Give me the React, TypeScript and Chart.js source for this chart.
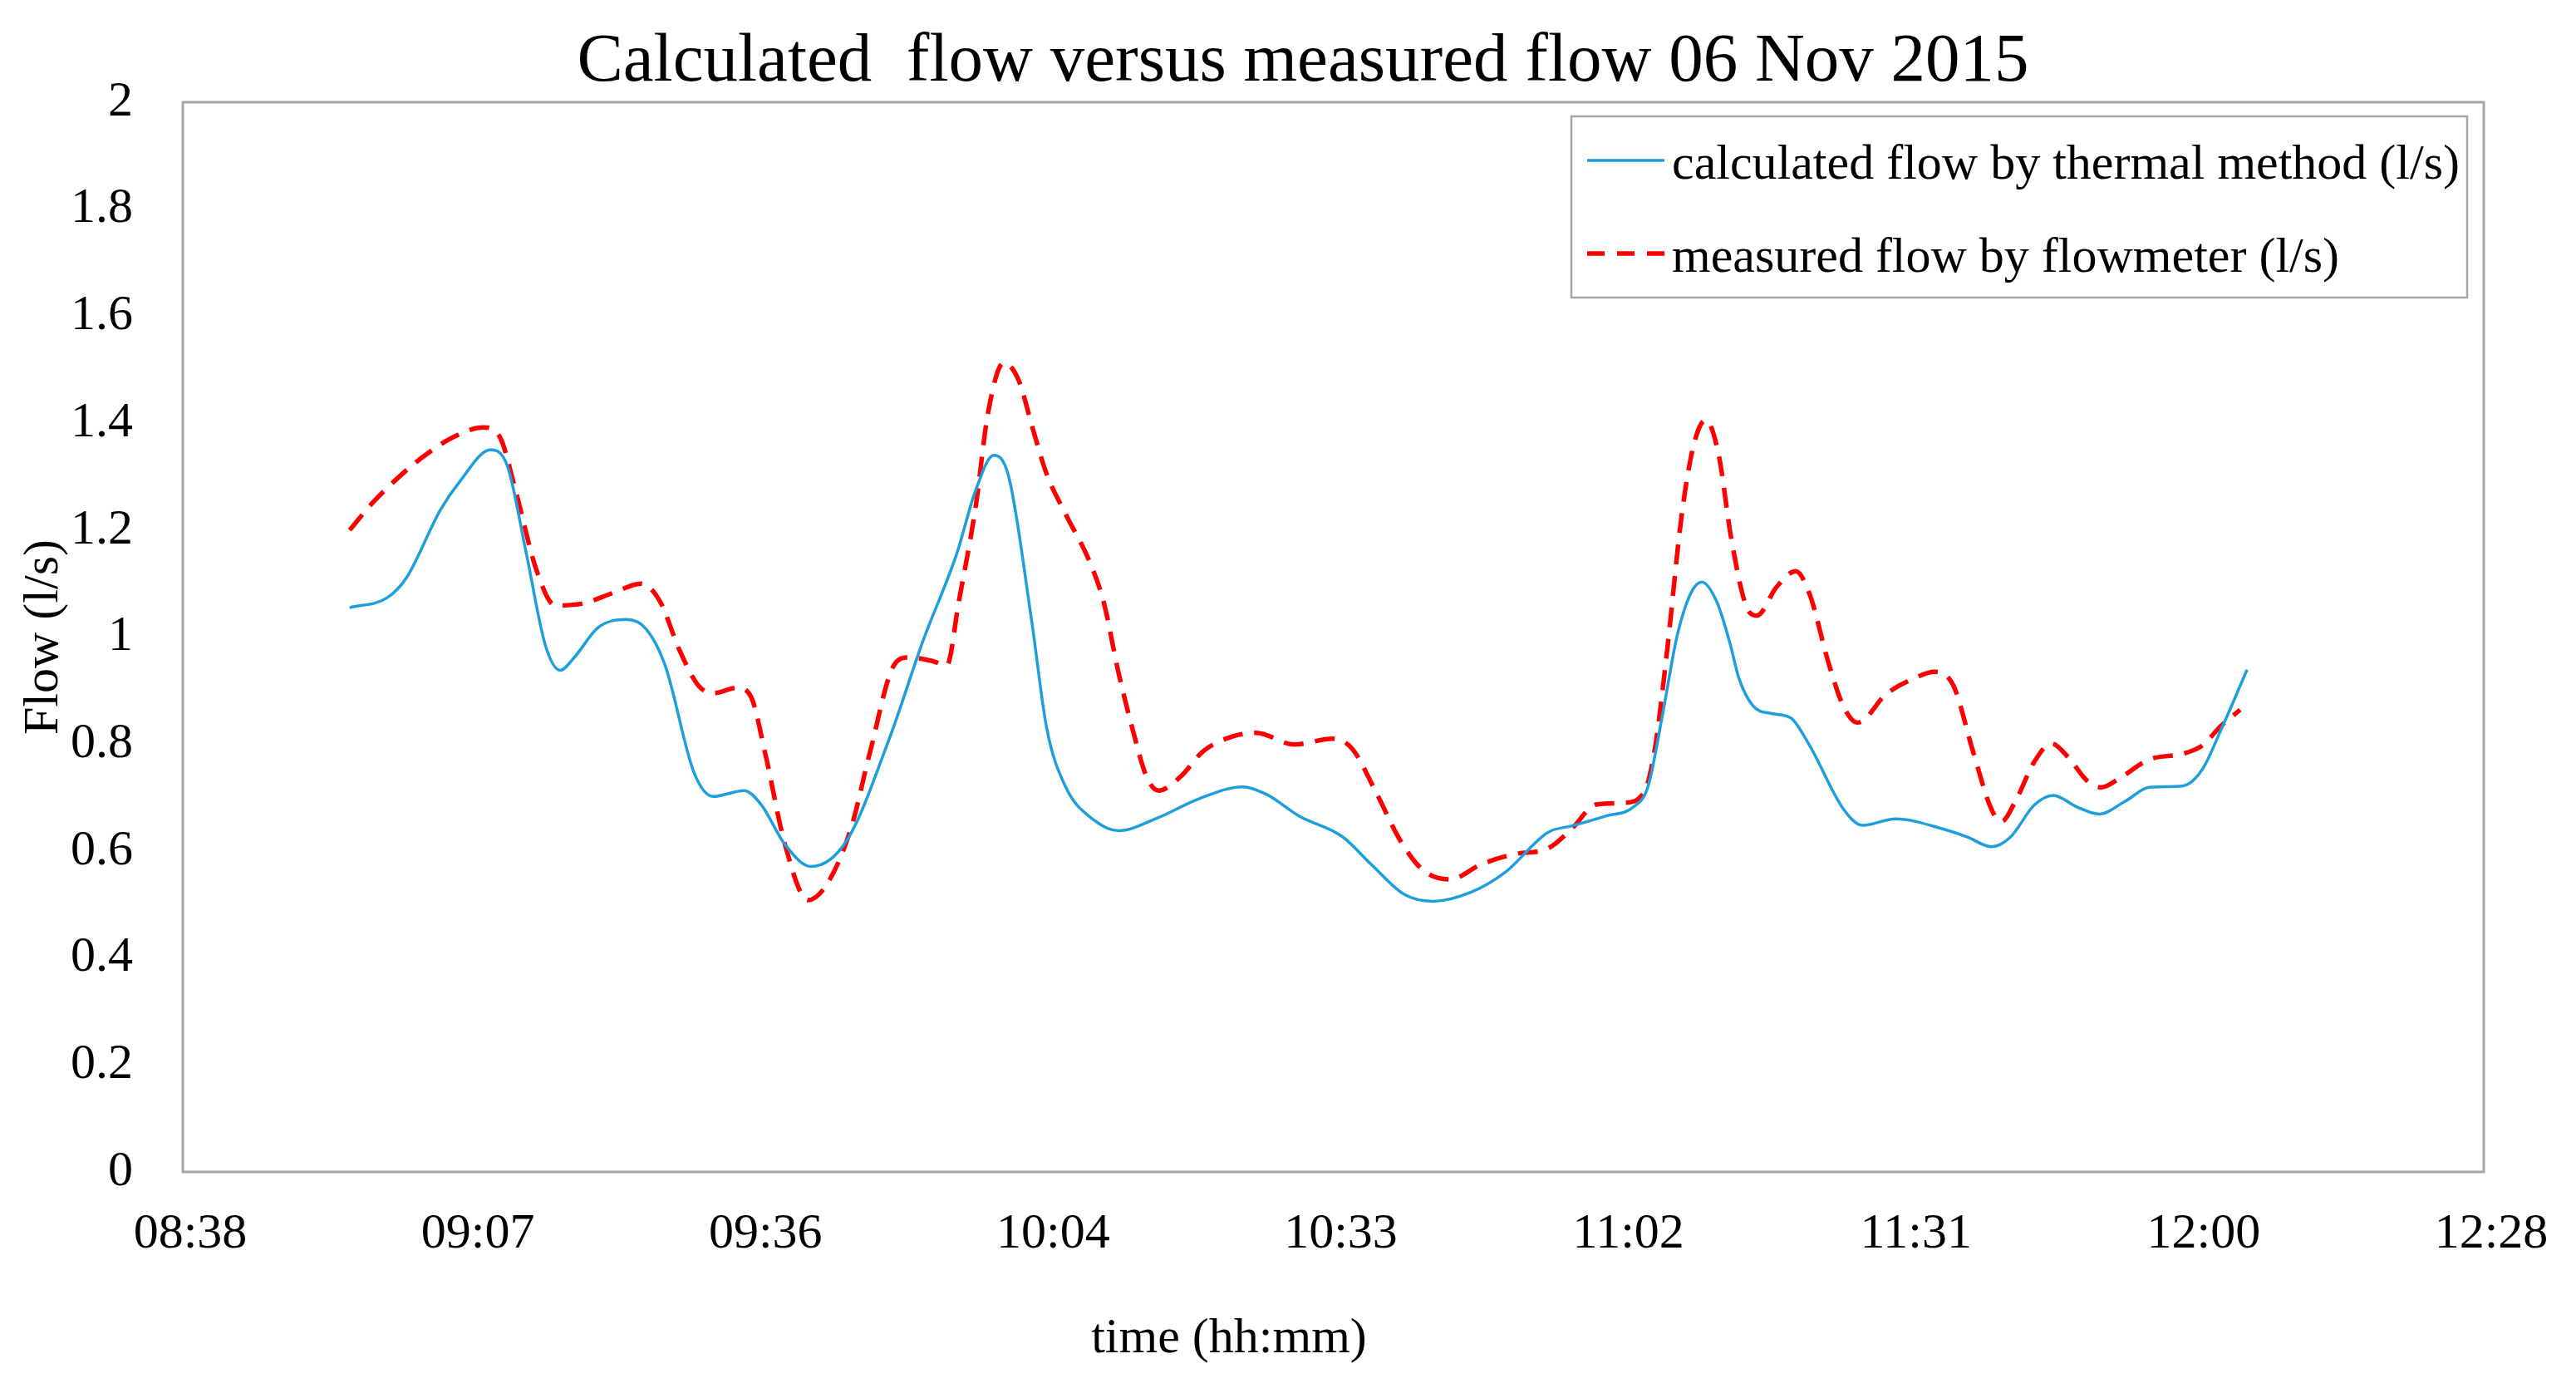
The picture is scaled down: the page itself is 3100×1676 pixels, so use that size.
import React, { useEffect, useRef } from "react";
import { Chart, registerables } from "chart.js";

Chart.register(...registerables);

// time in minutes after midnight
const calcTime = [
  535.1, 538.9, 540.8, 544.2, 546.1, 549.2, 550.9, 552.8, 554.7, 556.2, 557.6, 560.0, 562.8, 564.8,
  566.7, 569.6, 571.5, 574.6, 576.3, 578.7, 581.3, 584.9, 589.2, 592.5, 595.9, 597.8, 599.6, 601.1,
  603.4, 604.9, 606.8, 609.7, 612.1, 615.9, 620.2, 624.5, 626.9, 630.2, 634.5, 637.4, 640.7, 643.6,
  647.4, 650.8, 655.1, 657.5, 660.8, 663.7, 665.1, 666.6, 668.0, 669.4, 670.5, 672.0, 673.3, 674.2,
  675.6, 677.5, 679.4, 681.3, 684.7, 686.6, 689.9, 694.7, 697.1, 699.5, 701.4, 703.8, 705.7, 708.1,
  710.3, 712.9, 715.3, 718.7, 720.6, 722.5, 725.1,
];
const calcFlow = [
  1.055, 1.074, 1.111, 1.238, 1.29, 1.35, 1.32, 1.156, 0.985, 0.938, 0.962, 1.018, 1.033, 1.015,
  0.947, 0.746, 0.702, 0.713, 0.687, 0.612, 0.571, 0.62, 0.813, 0.992, 1.156, 1.275, 1.34, 1.3,
  1.03, 0.83, 0.72, 0.657, 0.638, 0.661, 0.698, 0.72, 0.706, 0.665, 0.627, 0.575, 0.519, 0.506,
  0.523, 0.56, 0.635, 0.647, 0.665, 0.683, 0.72, 0.858, 1.0, 1.082, 1.103, 1.066, 0.99, 0.924,
  0.872, 0.857, 0.849, 0.797, 0.678, 0.648, 0.66, 0.641, 0.626, 0.608, 0.626, 0.686, 0.704, 0.682,
  0.669, 0.693, 0.719, 0.722, 0.752, 0.827, 0.939,
];

const measTime = [
  535.1, 537.5, 539.9, 542.8, 545.6, 548.5, 550.2, 551.8, 553.8, 555.7, 558.5, 561.4, 564.3, 566.2,
  568.1, 570.0, 571.5, 573.9, 575.3, 576.7, 578.7, 581.0, 582.9, 585.3, 587.2, 589.6, 591.1, 593.5,
  594.9, 596.1, 597.8, 599.0, 600.6, 602.1, 603.5, 604.9, 606.8, 609.2, 610.6, 612.1, 613.5, 614.9,
  616.1, 618.3, 620.6, 623.5, 625.9, 629.7, 633.5, 635.5, 637.9, 640.3, 642.6, 645.3, 648.4, 651.7,
  655.1, 657.5, 659.9, 662.7, 664.7, 665.8, 667.0, 668.5, 669.7, 670.9, 672.2, 673.4, 674.9, 676.0,
  678.0, 679.9, 681.3, 683.2, 684.7, 686.1, 689.0, 691.9, 693.8, 695.7, 697.6, 699.5, 700.5, 701.9,
  703.8, 705.5, 707.2, 709.1, 710.5, 712.4, 715.3, 718.7, 720.6, 722.5, 724.4,
];
const measFlow = [
  1.2, 1.253, 1.297, 1.342, 1.375, 1.392, 1.372, 1.268, 1.126, 1.059, 1.063, 1.082, 1.1, 1.066,
  0.977, 0.91, 0.895, 0.905, 0.888, 0.784, 0.612, 0.508, 0.538, 0.642, 0.784, 0.947, 0.962, 0.955,
  0.947, 1.066, 1.245, 1.416, 1.513, 1.48, 1.39, 1.305, 1.23, 1.141, 1.066, 0.933, 0.828, 0.739,
  0.713, 0.739, 0.787, 0.814, 0.821, 0.799, 0.81, 0.791, 0.709, 0.62, 0.564, 0.547, 0.575, 0.594,
  0.605, 0.642, 0.687, 0.69, 0.709, 0.791, 0.97, 1.23, 1.36, 1.406, 1.34, 1.19, 1.06, 1.04,
  1.094, 1.123, 1.08, 0.951, 0.87, 0.84, 0.894, 0.924, 0.935, 0.909, 0.79, 0.678, 0.655, 0.693,
  0.767, 0.801, 0.775, 0.731, 0.719, 0.737, 0.771, 0.782, 0.797, 0.834, 0.864,
];

const xTicks = [518.4, 547.2, 576, 604.8, 633.6, 662.4, 691.2, 720, 748.8];
const yTicks = [0, 0.2, 0.4, 0.6, 0.8, 1, 1.2, 1.4, 1.6, 1.8, 2];

const titleText = "Calculated  flow versus measured flow 06 Nov 2015";
const xTitle = "time (hh:mm)";
const yTitle = "Flow (l/s)";
const calcLabel = "calculated flow by thermal method (l/s)";
const measLabel = "measured flow by flowmeter (l/s)";

const FONT = "'Liberation Serif', 'Times New Roman', serif";
const BLUE = "#1E9FDC";
const RED = "#FF0000";
const FRAME = "#A6A6A6";

function fmtTime(v: number): string {
  const total = Math.floor(v + 1e-6);
  const h = Math.floor(total / 60);
  const m = total % 60;
  return String(h).padStart(2, "0") + ":" + String(m).padStart(2, "0");
}

const decor = {
  id: "decor",
  beforeDatasetsDraw(chart: any) {
    const { ctx, chartArea } = chart;
    ctx.save();
    ctx.strokeStyle = FRAME;
    ctx.lineWidth = 3;
    ctx.strokeRect(chartArea.left, chartArea.top, chartArea.right - chartArea.left, chartArea.bottom - chartArea.top);
    ctx.restore();
  },
  afterDraw(chart: any) {
    const { ctx } = chart;
    ctx.save();
    ctx.fillStyle = "#000";
    // title
    ctx.font = `83px ${FONT}`;
    ctx.textAlign = "center";
    ctx.textBaseline = "alphabetic";
    ctx.fillText(titleText, 1568, 97);
    // x title
    ctx.font = `60px ${FONT}`;
    ctx.textBaseline = "middle";
    ctx.fillText(xTitle, 1479, 1611);
    // legend
    const bx = 1891, by = 140, bw = 1078, bh = 218;
    ctx.fillStyle = "#fff";
    ctx.fillRect(bx, by, bw, bh);
    ctx.strokeStyle = FRAME;
    ctx.lineWidth = 2.5;
    ctx.strokeRect(bx, by, bw, bh);
    const ds = chart.data.datasets;
    const rows = [193, 305];
    ds.forEach((d: any, i: number) => {
      const y = rows[i];
      ctx.beginPath();
      ctx.strokeStyle = d.borderColor;
      ctx.lineWidth = d.borderWidth;
      ctx.setLineDash(i === 1 ? [21, 15] : []);
      ctx.moveTo(1910, y);
      ctx.lineTo(2003, y);
      ctx.stroke();
      ctx.setLineDash([]);
      ctx.fillStyle = "#000";
      ctx.font = `60px ${FONT}`;
      ctx.textAlign = "left";
      ctx.textBaseline = "alphabetic";
      ctx.fillText(d.label, 2012, y + 22);
    });
    ctx.restore();
  },
};

export default function App() {
  const ref = useRef<HTMLCanvasElement>(null);
  useEffect(() => {
    if (!ref.current) return;
    const chart = new Chart(ref.current, {
      type: "line",
      data: {
        datasets: [
          {
            label: calcLabel,
            data: calcTime.map((t, i) => ({ x: t, y: calcFlow[i] })),
            borderColor: BLUE,
            borderWidth: 3.5,
            pointRadius: 0,
            cubicInterpolationMode: "monotone",
            fill: false,
          },
          {
            label: measLabel,
            data: measTime.map((t, i) => ({ x: t, y: measFlow[i] })),
            borderColor: RED,
            borderWidth: 5.5,
            borderDash: [24, 14],
            pointRadius: 0,
            cubicInterpolationMode: "monotone",
            fill: false,
          },
        ],
      },
      options: {
        animation: false,
        responsive: false,
        devicePixelRatio: 1,
        layout: { padding: { top: 123, right: 111, bottom: 0, left: 0 } },
        plugins: { legend: { display: false }, title: { display: false }, tooltip: { enabled: false } },
        scales: {
          x: {
            type: "linear",
            min: xTicks[0],
            max: xTicks[xTicks.length - 1],
            grid: { display: false },
            border: { display: false },
            afterBuildTicks: (axis: any) => {
              axis.ticks = xTicks.map((v) => ({ value: v }));
            },
            afterFit: (scale: any) => {
              scale.height = 1676 - 1410;
            },
            ticks: {
              autoSkip: false,
              maxRotation: 0,
              padding: 31,
              labelOffset: 9,
              color: "#000",
              font: { family: FONT, size: 60 },
              callback: (v: any) => fmtTime(Number(v)),
            },
          },
          y: {
            type: "linear",
            min: 0,
            max: 2,
            grid: { display: false },
            border: { display: false },
            afterBuildTicks: (axis: any) => {
              axis.ticks = yTicks.map((v) => ({ value: v }));
            },
            afterFit: (scale: any) => {
              scale.width = 220;
            },
            title: {
              display: true,
              text: yTitle,
              color: "#000",
              font: { family: FONT, size: 60 },
              padding: { top: 17, bottom: 0 },
            },
            ticks: {
              padding: 52,
              color: "#000",
              font: { family: FONT, size: 60 },
              callback: (v: any) => String(Number(Number(v).toFixed(1))),
            },
          },
        },
      },
      plugins: [decor],
    } as any);
    return () => chart.destroy();
  }, []);
  return (
    <div style={{ position: "absolute", left: 0, top: 0, width: 3100, height: 1676, background: "#fff" }}>
      <canvas ref={ref} width={3100} height={1676} style={{ width: 3100, height: 1676, display: "block" }} />
    </div>
  );
}
